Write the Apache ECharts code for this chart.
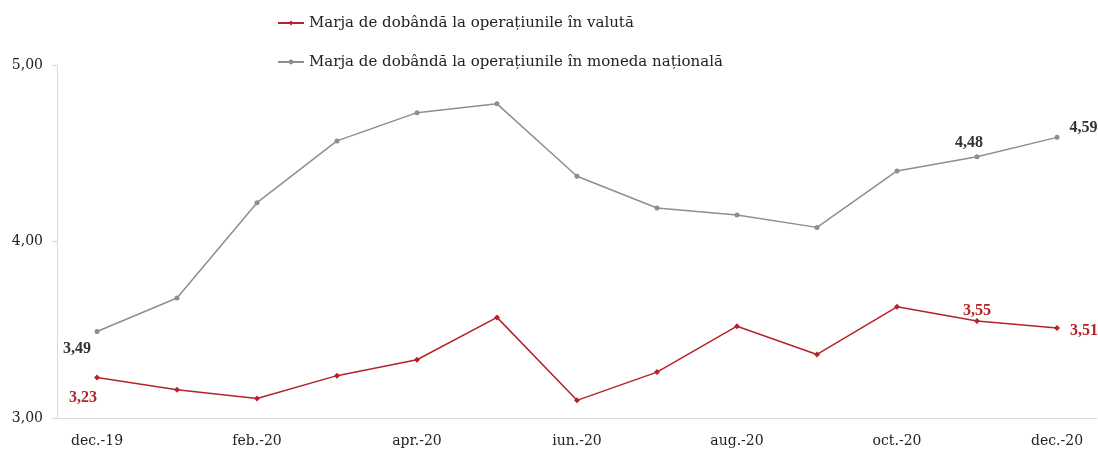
<!DOCTYPE html>
<html>
<head>
<meta charset="utf-8">
<script src="https://cdn.jsdelivr.net/npm/echarts@6/dist/echarts.min.js"></script>
<style>
  html, body { margin: 0; padding: 0; background: #fff; }
  #main { width: 1098px; height: 450px; }
</style>
</head>
<body>
<div id="main"></div>
<script>
// luni (categorii)
var months = ["dec.-19", "ian.-20", "feb.-20", "mar.-20", "apr.-20", "mai-20", "iun.-20",
              "iul.-20", "aug.-20", "sep.-20", "oct.-20", "nov.-20", "dec.-20"];
// marja in valuta
var valuta = [3.23, 3.16, 3.11, 3.24, 3.33, 3.57, 3.10, 3.26, 3.52, 3.36, 3.63, 3.55, 3.51];
// marja in moneda nationala
var nationala = [3.49, 3.68, 4.22, 4.57, 4.73, 4.78, 4.37, 4.19, 4.15, 4.08, 4.40, 4.48, 4.59];
var yTicks = [3, 4, 5];

var RED = "#b5232a";
var GREY = "#8e8e8e";
var FONT = "DejaVu Serif";
var LABEL_FONT = "Liberation Serif";

function fmt(v) {
  return v.toFixed(2).replace(".", ",");
}

// etichete afisate doar la unele puncte
var labelsValuta = {
  0: { position: "bottom", offset: [-14, 4] },
  11: { position: "top", offset: [0, 6] },
  12: { position: "right", offset: [5, 3] }
};
var labelsNationala = {
  0: { position: "bottom", offset: [-20, 2] },
  11: { position: "top", offset: [-8, 2] },
  12: { position: "right", offset: [5, -10] }
};

function buildData(values, labels, color) {
  return values.map(function (v, i) {
    var l = labels[i];
    if (!l) return v;
    return {
      value: v,
      label: {
        show: true,
        position: l.position,
        offset: l.offset,
        formatter: function (p) { return fmt(p.value); },
        color: color,
        fontFamily: LABEL_FONT,
        fontWeight: "bold",
        fontSize: 16
      }
    };
  });
}

var chart = echarts.init(document.getElementById("main"));
chart.setOption({
  animation: false,
  grid: { left: 57, right: 1, top: 65, bottom: 32 },
  legend: {
    orient: "vertical",
    left: 272,
    top: 10,
    padding: 5,
    itemWidth: 26,
    itemHeight: 6,
    itemGap: 23,
    textStyle: { fontFamily: FONT, fontSize: 15, lineHeight: 16, color: "#222" },
    data: ["Marja de dobândă la operațiunile în valută", "Marja de dobândă la operațiunile în moneda națională"]
  },
  xAxis: {
    type: "category",
    data: months,
    boundaryGap: true,
    axisLine: { lineStyle: { color: "#d9d9d9", width: 1 } },
    axisTick: { interval: 1, length: 4, lineStyle: { color: "#d9d9d9" } },
    axisLabel: { interval: 1, margin: 16, fontFamily: FONT, fontSize: 14, color: "#222" }
  },
  yAxis: {
    type: "value",
    min: yTicks[0],
    max: yTicks[yTicks.length - 1],
    interval: 1,
    splitLine: { show: false },
    axisLine: { show: true, lineStyle: { color: "#d9d9d9" } },
    axisTick: { show: true, length: 5, lineStyle: { color: "#d9d9d9" } },
    axisLabel: { margin: 14, fontFamily: FONT, fontSize: 14, color: "#222", formatter: fmt }
  },
  series: [
    {
      name: "Marja de dobândă la operațiunile în valută",
      type: "line",
      data: buildData(valuta, labelsValuta, RED),
      color: RED,
      symbol: "diamond",
      symbolSize: 6,
      lineStyle: { color: RED, width: 1.5 },
      itemStyle: { color: RED }
    },
    {
      name: "Marja de dobândă la operațiunile în moneda națională",
      type: "line",
      data: buildData(nationala, labelsNationala, "#333"),
      color: GREY,
      symbol: "circle",
      symbolSize: 5,
      lineStyle: { color: GREY, width: 1.5 },
      itemStyle: { color: GREY }
    }
  ]
});
</script>
</body>
</html>
